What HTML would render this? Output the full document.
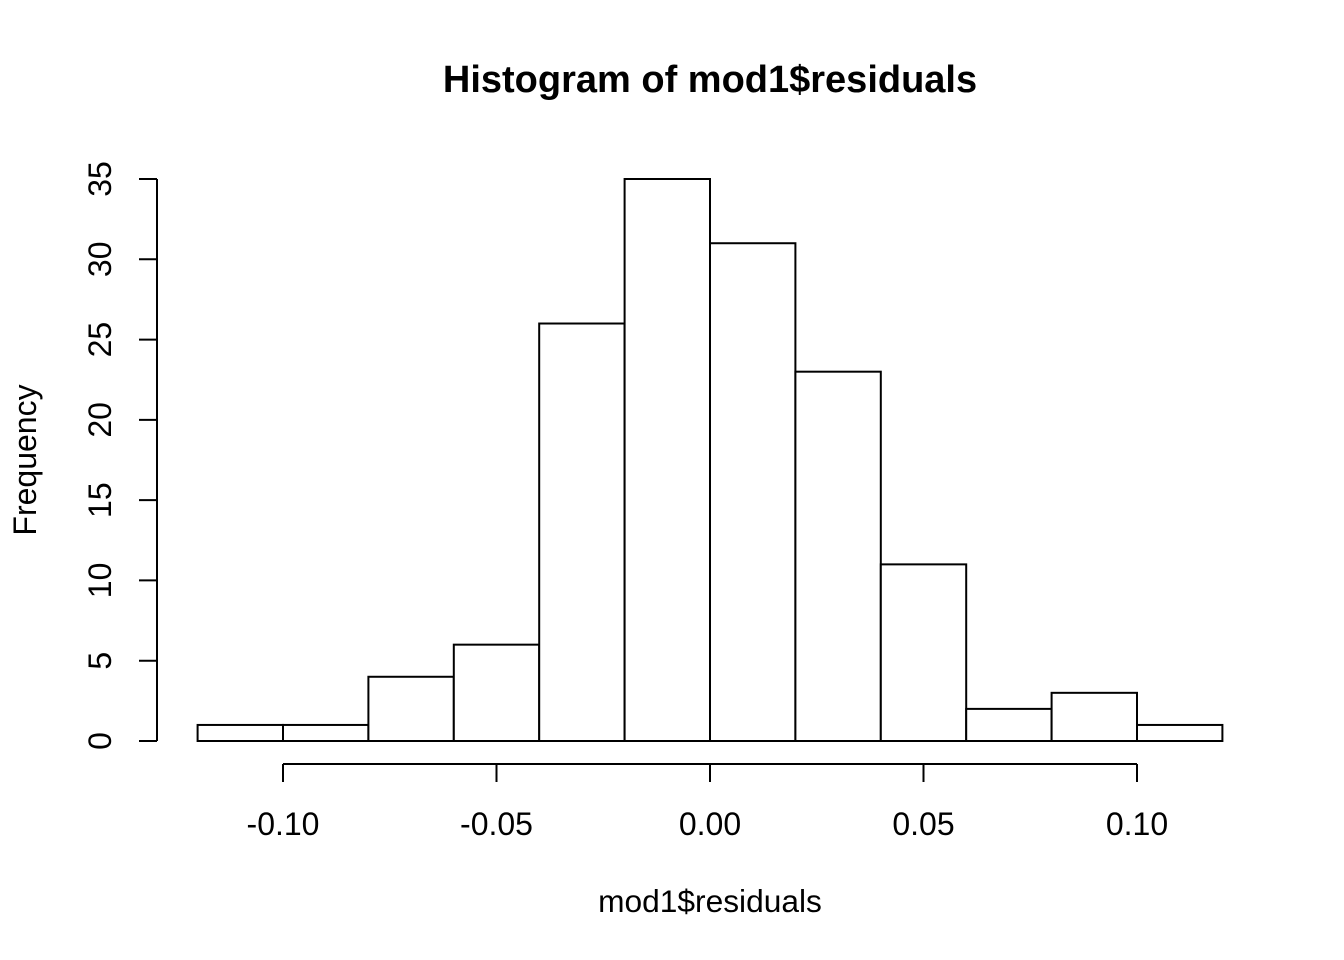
<!DOCTYPE html>
<html><head><meta charset="utf-8"><style>
html,body{margin:0;padding:0;background:#fff;}
svg{display:block;font-family:"Liberation Sans",Arial,sans-serif;}
</style></head><body>
<svg id="chart" width="1344" height="960" viewBox="0 0 1344 960">
<text x="710" y="92" text-anchor="middle" font-size="38" font-weight="bold">Histogram of mod1$residuals</text>
<text x="710" y="912" text-anchor="middle" font-size="31.7">mod1$residuals</text>
<text transform="translate(36,460) rotate(-90)" text-anchor="middle" font-size="32">Frequency</text>
<g id="bars"></g>
<g id="xaxis"></g>
<g id="yaxis"></g>
</svg>
<script>
const binStarts = [-0.12,-0.10,-0.08,-0.06,-0.04,-0.02,0.00,0.02,0.04,0.06,0.08,0.10];
const binWidth = 0.02;
const counts = [1,1,4,6,26,35,31,23,11,2,3,1];
const xTicks = [-0.10,-0.05,0.00,0.05,0.10];
const xTickLabels = ["-0.10","-0.05","0.00","0.05","0.10"];
const yTicks = [0,5,10,15,20,25,30,35];

const NS="http://www.w3.org/2000/svg";
const xs = v => 710 + v*(1137-283)/0.2;
const ys = v => 741 - v*(741-179)/35;
function mk(tag, attrs, parent){const e=document.createElementNS(NS,tag);for(const k in attrs)e.setAttribute(k,attrs[k]);parent.appendChild(e);return e;}

const bars=document.getElementById('bars');
binStarts.forEach((b,i)=>{
  const x0=xs(b), x1=xs(b+binWidth), y=ys(counts[i]);
  const r=mk('rect',{x:x0,y:y,width:x1-x0,height:ys(0)-y,fill:'#fff',stroke:'#000','stroke-width':2},bars);
  
  
});

const xa=document.getElementById('xaxis');
mk('line',{x1:xs(xTicks[0]),x2:xs(xTicks[xTicks.length-1]),y1:764,y2:764,stroke:'#000','stroke-width':2},xa);
xTicks.forEach((t,i)=>{
  mk('line',{x1:xs(t),x2:xs(t),y1:764,y2:782,stroke:'#000','stroke-width':2},xa);
  const tx=mk('text',{x:xs(t),y:835,'text-anchor':'middle','font-size':32},xa);
  tx.textContent=xTickLabels[i];
  
  
});

const ya=document.getElementById('yaxis');
mk('line',{x1:157,x2:157,y1:ys(yTicks[0]),y2:ys(yTicks[yTicks.length-1]),stroke:'#000','stroke-width':2},ya);
yTicks.forEach(t=>{
  mk('line',{x1:139,x2:157,y1:ys(t),y2:ys(t),stroke:'#000','stroke-width':2},ya);
  const tx=mk('text',{transform:`translate(111,${ys(t)}) rotate(-90)`,'text-anchor':'middle','font-size':32},ya);
  tx.textContent=String(t);
  
  
});
</script>
</body></html>
